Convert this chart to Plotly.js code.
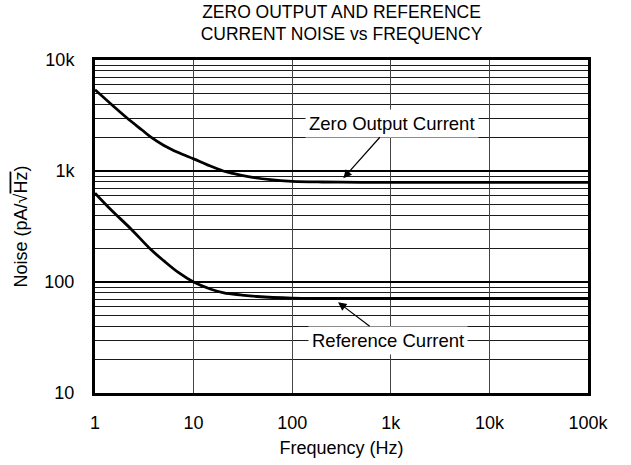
<!DOCTYPE html>
<html>
<head>
<meta charset="utf-8">
<script src="https://cdn.plot.ly/plotly-3.0.1.min.js"></script>
<style>html,body{margin:0;padding:0;background:#fff;}#chart{width:631px;height:465px;}</style>
</head>
<body>
<div id="chart"></div>
<script>
// Frequencies (Hz) and noise (pA/sqrt(Hz))
var zeroFreq = [1, 1.5, 2.1, 3, 3.66, 5, 7, 10, 14, 20, 25, 37, 60, 100, 200, 500, 1000, 10000, 100000];
var zeroNoise = [5400, 3915, 3020, 2340, 2030, 1700, 1465, 1285, 1130, 1000, 950, 885, 835, 808, 796, 791, 790, 790, 790];

var refFreq = [1, 1.47, 2.33, 3.71, 5, 7, 10, 15, 20.3, 30, 44, 100, 200, 1000, 10000, 100000];
var refNoise = [632, 443, 299, 195, 155, 122, 100, 86, 80, 76.5, 74, 71.5, 71, 71, 71, 71];

var xTickVals = [1, 10, 100, 1000, 10000, 100000];
var xTickText = ['1', '10', '100', '1k', '10k', '100k'];
var yTickVals = [10, 100, 1000, 10000];
var yTickText = ['10', '100', '1k', '10k'];

var FONT = 'Liberation Sans, Arial, Helvetica, sans-serif';

var traces = [
  {x: zeroFreq, y: zeroNoise, type: 'scatter', mode: 'lines', name: 'Zero Output Current',
   line: {color: '#000', width: 2.8, shape: 'spline', smoothing: 1}},
  {x: refFreq, y: refNoise, type: 'scatter', mode: 'lines', name: 'Reference Current',
   line: {color: '#000', width: 2.8, shape: 'spline', smoothing: 1}}
];

var layout = {
  width: 631, height: 465,
  margin: {l: 95, r: 43, t: 60, b: 72},
  paper_bgcolor: '#fff', plot_bgcolor: '#fff',
  showlegend: false,
  font: {family: FONT, size: 18, color: '#000'},
  title: {
    text: 'ZERO OUTPUT AND REFERENCE<br>CURRENT NOISE vs FREQUENCY',
    font: {family: FONT, size: 17.5, color: '#000'},
    x: 0.5, xref: 'paper', xanchor: 'center',
    y: 0.962, yref: 'container', yanchor: 'top'
  },
  xaxis: {
    type: 'log', range: [0, 5],
    tickmode: 'array', tickvals: xTickVals, ticktext: xTickText,
    ticks: '', ticklabelstandoff: 11,
    showgrid: true, gridcolor: '#444', gridwidth: 1,
    showline: true, linecolor: '#000', linewidth: 3, mirror: true,
    zeroline: false,
    tickfont: {family: FONT, size: 18, color: '#000'},
    title: {text: 'Frequency (Hz)', font: {family: FONT, size: 18, color: '#000'}, standoff: 10}
  },
  yaxis: {
    type: 'log', range: [1, 4],
    tickmode: 'array', tickvals: yTickVals, ticktext: yTickText,
    ticks: '', ticklabelstandoff: 14,
    showgrid: true, gridcolor: '#000', gridwidth: 2.2,
    minor: {dtick: 'D1', showgrid: true, gridcolor: '#1a1a1a', gridwidth: 1, ticks: ''},
    showline: true, linecolor: '#000', linewidth: 3, mirror: true,
    zeroline: false,
    tickfont: {family: FONT, size: 18, color: '#000'},
    title: {text: 'Noise (pA/\u221A<span style="text-decoration:overline">Hz</span>)',
            font: {family: FONT, size: 18, color: '#000'}, standoff: 13}
  },
  annotations: [
    {x: Math.log10(330), y: Math.log10(860), xref: 'x', yref: 'y',
     text: 'Zero Output Current', showarrow: true,
     ax: 49, ay: -55, arrowhead: 2, arrowsize: 1.4, arrowwidth: 1.2, arrowcolor: '#000',
     bgcolor: '#fff', borderpad: 3,
     font: {family: FONT, size: 18.5, color: '#000'}},
    {x: Math.log10(292), y: Math.log10(65.6), xref: 'x', yref: 'y',
     text: 'Reference Current', showarrow: true,
     ax: 50, ay: 38, arrowhead: 2, arrowsize: 1.4, arrowwidth: 1.2, arrowcolor: '#000',
     bgcolor: '#fff', borderpad: 3,
     font: {family: FONT, size: 18.5, color: '#000'}}
  ]
};

Plotly.newPlot('chart', traces, layout, {displayModeBar: false, staticPlot: true});
</script>
</body>
</html>
